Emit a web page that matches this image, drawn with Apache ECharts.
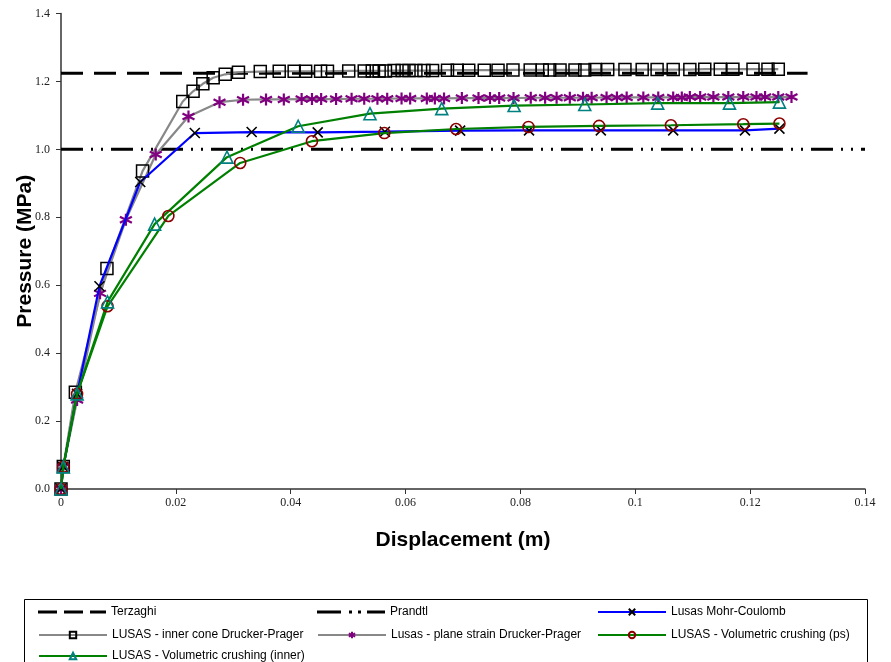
<!DOCTYPE html>
<html>
<head>
<meta charset="utf-8">
<script src="https://cdn.jsdelivr.net/npm/echarts@6/dist/echarts.min.js"></script>
<style>html,body{margin:0;padding:0;background:#fff;}#c{width:891px;height:662px;}</style>
</head>
<body>
<div id="c"></div>
<script>
// ---- data ----
const xTicks = [0, 0.02, 0.04, 0.06, 0.08, 0.1, 0.12, 0.14];
const yTicks = [0, 0.2, 0.4, 0.6, 0.8, 1.0, 1.2, 1.4];

const terzaghiX = [0, 0.13];
const terzaghiY = [1.224, 1.224];
const prandtlX = [0, 0.14];
const prandtlY = [1.0, 1.0];

const mcX = [0, 0.0004, 0.0028, 0.0067, 0.0138, 0.0233, 0.0332, 0.0447, 0.0564, 0.0695, 0.0815, 0.094, 0.1066, 0.1191, 0.1251];
const mcY = [0, 0.065, 0.28, 0.597, 0.904, 1.048, 1.051, 1.050, 1.052, 1.055, 1.056, 1.056, 1.056, 1.056, 1.061];

const icX = [0, 0.0004, 0.0025, 0.0080, 0.0142, 0.0212, 0.0230, 0.0247, 0.0265, 0.0286, 0.0309, 0.0347, 0.0380, 0.0406, 0.0426,
  0.0452, 0.0464, 0.0501, 0.0528, 0.0542, 0.0554, 0.0565, 0.0580, 0.0594, 0.0606, 0.0618, 0.0632, 0.0647, 0.0673, 0.0690,
  0.0710, 0.0737, 0.0761, 0.0787, 0.0817, 0.0838, 0.0851, 0.0869, 0.0895, 0.0912, 0.0930, 0.0952, 0.0982, 0.1012, 0.1038,
  0.1066, 0.1095, 0.1121, 0.1148, 0.1170, 0.1205, 0.1231, 0.1249];
const icY = [0, 0.066, 0.285, 0.649, 0.936, 1.141, 1.171, 1.193, 1.211, 1.221, 1.227, 1.229, 1.230, 1.230, 1.230,
  1.230, 1.230, 1.231, 1.231, 1.231, 1.231, 1.231, 1.232, 1.232, 1.232, 1.232, 1.232, 1.232, 1.233, 1.233,
  1.233, 1.233, 1.233, 1.234, 1.234, 1.234, 1.234, 1.234, 1.234, 1.234, 1.235, 1.235, 1.235, 1.235, 1.235,
  1.235, 1.235, 1.236, 1.236, 1.236, 1.236, 1.236, 1.236];

const psX = [0, 0.0004, 0.0028, 0.0068, 0.0113, 0.0165, 0.0222, 0.0276, 0.0317, 0.0357, 0.0388, 0.0419, 0.0437, 0.0453, 0.0479,
  0.0506, 0.0528, 0.0551, 0.0568, 0.0593, 0.0608, 0.0637, 0.0651, 0.0667, 0.0698, 0.0727, 0.0747, 0.0763, 0.0788, 0.0818,
  0.0843, 0.0863, 0.0886, 0.0909, 0.0924, 0.0950, 0.0968, 0.0985, 0.1014, 0.1040, 0.1066, 0.1081, 0.1095, 0.1113, 0.1136,
  0.1162, 0.1188, 0.1211, 0.1226, 0.1249, 0.1272];
const psY = [0, 0.065, 0.262, 0.576, 0.793, 0.985, 1.097, 1.139, 1.146, 1.147, 1.147, 1.148, 1.148, 1.148, 1.148,
  1.149, 1.149, 1.149, 1.149, 1.150, 1.150, 1.150, 1.150, 1.150, 1.151, 1.151, 1.151, 1.151, 1.151, 1.152,
  1.152, 1.152, 1.152, 1.152, 1.152, 1.153, 1.153, 1.153, 1.153, 1.153, 1.153, 1.153, 1.154, 1.154, 1.154,
  1.154, 1.154, 1.154, 1.154, 1.154, 1.154];

const vcpsX = [0, 0.0004, 0.0028, 0.0081, 0.0187, 0.0312, 0.0437, 0.0563, 0.0688, 0.0814, 0.0937, 0.1062, 0.1188, 0.1251];
const vcpsY = [0, 0.065, 0.28, 0.538, 0.804, 0.960, 1.024, 1.048, 1.060, 1.066, 1.069, 1.071, 1.074, 1.076];

const vciX = [0, 0.0004, 0.0028, 0.0081, 0.0163, 0.0289, 0.0413, 0.0538, 0.0663, 0.0789, 0.0912, 0.1039, 0.1164, 0.1251];
const vciY = [0, 0.065, 0.28, 0.551, 0.780, 0.977, 1.068, 1.105, 1.120, 1.129, 1.132, 1.136, 1.136, 1.139];

const names = ['Terzaghi', 'Prandtl', 'Lusas Mohr-Coulomb', 'LUSAS - inner cone Drucker-Prager',
  'Lusas - plane strain Drucker-Prager', 'LUSAS - Volumetric crushing (ps)', 'LUSAS - Volumetric crushing (inner)'];

// ---- build ----
const zip = (a, b) => a.map((v, i) => [v, b[i]]);
const serif = "'Liberation Serif','Times New Roman',serif";
const sans = "'Liberation Sans',Arial,sans-serif";
const narrow = "'Liberation Sans Narrow','Arial Narrow','Liberation Sans',sans-serif";

const xSym = 'path://M0,0L10,10M10,0L0,10';
const starSym = 'path://M5,0L5,10M0.7,2.5L9.3,7.5M0.7,7.5L9.3,2.5';
const dashIcon = 'path://M0,0h19v3h-19zM26,0h19v3h-19zM52,0h16v3h-16z';
const dashDotIcon = 'path://M0,0h24v3h-24zM32,0h3v3h-3zM41,0h3v3h-3zM50,0h18v3h-18z';

const chart = echarts.init(document.getElementById('c'), null, {renderer: 'canvas'});

function legendAt(name, left, top, icon) {
  const l = {
    data: [icon ? {name: name, icon: icon} : name], left: left, top: top, orient: 'horizontal',
    itemWidth: 68, itemHeight: icon ? 3 : 8, itemGap: 5, padding: 0,
    textStyle: {fontFamily: narrow, fontSize: 12, color: '#000'},
    selectedMode: false
  };
  if (icon) l.itemStyle = {color: '#000'};
  return l;
}

const option = {
  animation: false,
  backgroundColor: '#fff',
  grid: {left: 61, right: 26, top: 13.5, bottom: 173, containLabel: false},
  xAxis: {
    type: 'value', min: 0, max: 0.14, interval: 0.02,
    name: 'Displacement (m)', nameLocation: 'middle', nameGap: 41, nameMoveOverlap: false,
    nameTextStyle: {fontFamily: sans, fontSize: 21, fontWeight: 'bold', color: '#000'},
    axisLine: {lineStyle: {color: '#333', width: 1.5}},
    axisTick: {show: true, inside: false, length: 5, lineStyle: {color: '#333'}},
    axisLabel: {fontFamily: serif, fontSize: 12, color: '#222', margin: 8,
      formatter: v => { const t = xTicks.find(k => Math.abs(k - v) < 1e-9); return String(t !== undefined ? t : v); }},
    splitLine: {show: false}
  },
  yAxis: {
    type: 'value', min: 0, max: 1.4, interval: 0.2,
    name: 'Pressure (MPa)', nameLocation: 'middle', nameGap: 25, nameRotate: 90, nameMoveOverlap: false,
    nameTextStyle: {fontFamily: sans, fontSize: 21, fontWeight: 'bold', color: '#000'},
    axisLine: {show: true, lineStyle: {color: '#333', width: 1.5}},
    axisTick: {show: true, inside: false, length: 5, lineStyle: {color: '#333'}},
    axisLabel: {fontFamily: serif, fontSize: 12, color: '#222', margin: 11,
      formatter: v => { const t = yTicks.find(k => Math.abs(k - v) < 1e-9); return (t !== undefined ? t : v).toFixed(1); }},
    splitLine: {show: false}
  },
  legend: [
    legendAt(names[0], 38, 606, dashIcon),
    legendAt(names[1], 317, 606, dashDotIcon),
    legendAt(names[2], 597, 606),
    legendAt(names[3], 38, 629),
    legendAt(names[4], 317, 629),
    legendAt(names[5], 597, 629),
    legendAt(names[6], 38, 650)
  ],
  graphic: [{
    type: 'rect', left: 22, top: 597, shape: {width: 843, height: 80},
    style: {fill: 'none', stroke: '#000', lineWidth: 1}, z: 0, silent: true
  }],
  series: [
    {name: names[0], type: 'line', data: zip(terzaghiX, terzaghiY), symbol: 'none',
      lineStyle: {color: '#000', width: 3, type: [22, 11]}, itemStyle: {color: '#000'}, z: 1},
    {name: names[1], type: 'line', data: zip(prandtlX, prandtlY), symbol: 'none',
      lineStyle: {color: '#000', width: 3, type: [22, 8, 2, 8, 2, 8]}, itemStyle: {color: '#000'}, z: 1},
    {name: names[2], type: 'line', data: zip(mcX, mcY), symbol: xSym, symbolSize: 10,
      lineStyle: {color: '#0000ff', width: 2.2},
      itemStyle: {color: '#000', borderColor: '#000', borderWidth: 1.6}, z: 3},
    {name: names[3], type: 'line', data: zip(icX, icY), symbol: 'rect', symbolSize: 12,
      lineStyle: {color: '#888', width: 2.2},
      itemStyle: {color: 'rgba(0,0,0,0)', borderColor: '#000', borderWidth: 1.5}, z: 2},
    {name: names[4], type: 'line', data: zip(psX, psY), symbol: starSym, symbolSize: 12,
      lineStyle: {color: '#888', width: 2.2},
      itemStyle: {color: '#800080', borderColor: '#800080', borderWidth: 2.2}, z: 2},
    {name: names[5], type: 'line', data: zip(vcpsX, vcpsY), symbol: 'circle', symbolSize: 11,
      lineStyle: {color: '#008000', width: 2.2},
      itemStyle: {color: 'rgba(0,0,0,0)', borderColor: '#8b0000', borderWidth: 1.6}, z: 4},
    {name: names[6], type: 'line', data: zip(vciX, vciY), symbol: 'triangle', symbolSize: 12,
      lineStyle: {color: '#008000', width: 2.2},
      itemStyle: {color: 'rgba(0,0,0,0)', borderColor: '#008080', borderWidth: 1.6}, z: 4}
  ]
};
chart.setOption(option);
</script>
</body>
</html>
